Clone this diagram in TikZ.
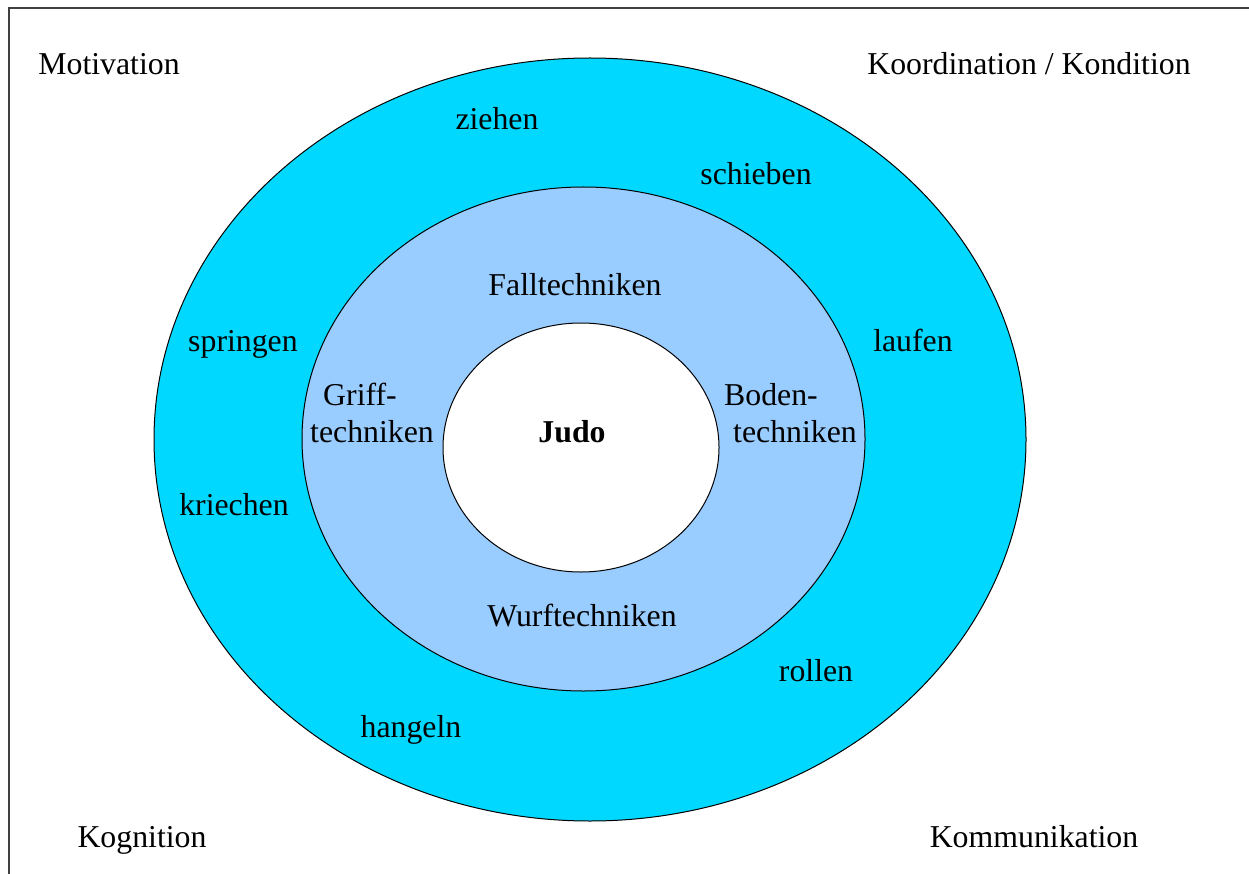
\documentclass[tikz,border=0pt]{standalone}
\usepackage{fontspec}
\setmainfont{Liberation Serif}
\usetikzlibrary{shapes.geometric}
\definecolor{outerc}{HTML}{00D8FF}
\definecolor{midc}{HTML}{99CCFF}
\begin{document}
\begin{tikzpicture}[x=1pt,y=-1pt,
  lbl/.style={font=\fontsize{31.8}{37}\selectfont, inner sep=0pt, anchor=base},
  ring/.style={draw=black, line width=1pt, ellipse, inner sep=0pt}]
\useasboundingbox (0,0) rectangle (1249,874);
\coordinate (bl) at (9,874);
\coordinate (tl) at (9,8);
\coordinate (tr) at (1249,8);
\draw[line width=1.2pt, black!75] (bl) -- (tl) -- (tr);
\node[ring, fill=outerc, minimum width=872pt, minimum height=763pt] (outer) at (590,439.5) {};
\node[ring, fill=midc, minimum width=563pt, minimum height=504pt] (mid) at (583.5,439) {};
\node[ring, fill=white, minimum width=276pt, minimum height=249pt] (inner) at (581,447.5) {};
% corners
\node[lbl] (mot) at (109,75) {Motivation};
\node[lbl] (koo) at (1029,75) {Koordination / Kondition};
\node[lbl] (kog) at (142,847) {Kognition};
\node[lbl] (kom) at (1034,847) {Kommunikation};
% outer ring
\node[lbl] (zie) at (497,130) {ziehen};
\node[lbl] (sch) at (756,185) {schieben};
\node[lbl] (spr) at (243,351) {springen};
\node[lbl] (lau) at (913,351) {laufen};
\node[lbl] (kri) at (234,515) {kriechen};
\node[lbl] (rol) at (816,681) {rollen};
\node[lbl] (han) at (411,737) {hangeln};
% middle ring
\node[lbl] (fal) at (575,296) {Falltechniken};
\node[lbl] (wur) at (582,626) {Wurftechniken};
\node[lbl] (gr1) at (360,405) {Griff-};
\node[lbl] (gr2) at (372,442) {techniken};
\node[lbl] (bo1) at (771,405) {Boden-};
\node[lbl] (bo2) at (795,442) {techniken};
% center
\node[lbl, font=\fontsize{31.8}{37}\selectfont\bfseries] (judo) at (572,442) {Judo};
\end{tikzpicture}
\end{document}
